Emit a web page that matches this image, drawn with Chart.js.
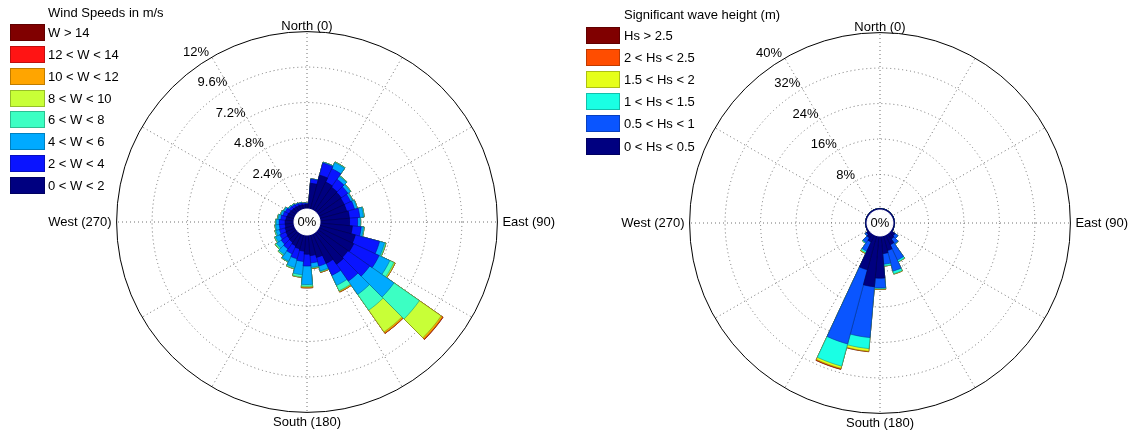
<!DOCTYPE html>
<html>
<head>
<meta charset="utf-8">
<script src="https://cdn.jsdelivr.net/npm/chart.js@4.4.1/dist/chart.umd.min.js"></script>
<style>
    html, body { margin: 0; padding: 0; background: #fff; width: 1134px; height: 435px; overflow: hidden; }
    body { position: relative; font-family: "Liberation Sans", Arial, sans-serif; color: #000; }
    canvas { position: absolute; top: 0; }
    #windCanvas { left: -3px; }
    #waveCanvas { left: 570px; }
    .legend-title, .legend-row { position: absolute; font-size: 13px; white-space: nowrap; }
    .legend-title { line-height: 15px; }
    .legend-row { line-height: 17px; }
    .legend-box { position: absolute; box-sizing: border-box; border: 1px solid; }
</style>
</head>
<body>
<canvas id="windCanvas" width="620" height="435"></canvas>
<canvas id="waveCanvas" width="620" height="435"></canvas>
<div id="windLegend"></div>
<div id="waveLegend"></div>
<script>
// 36 sectors of 10 degrees, sector k centred on 10*k degrees (clockwise from north)
const directionLabels = ['North (0)', '', '', 'East (90)', '', '', 'South (180)', '', '', 'West (270)', '', ''];

// ---- wind speeds, % of time per sector ----
const wind0to2 = [0.30, 1.75, 2.40, 2.10, 2.00, 1.95, 1.90, 1.90, 2.00, 2.00, 2.20, 2.50,
                  2.60, 2.50, 2.60, 2.20, 1.60, 1.40, 1.30, 1.10, 1.00, 0.90, 0.80, 0.75,
                  0.70, 0.65, 0.60, 0.60, 0.55, 0.50, 0.45, 0.40, 0.38, 0.35, 0.33, 0.30];
const wind2to4 = [0.07, 0.28, 0.85, 1.00, 0.65, 0.55, 0.48, 0.55, 0.70, 0.55, 0.60, 1.70,
                  1.90, 1.80, 1.40, 0.90, 0.60, 0.50, 0.80, 0.70, 0.70, 0.60, 0.55, 0.50,
                  0.45, 0.40, 0.40, 0.40, 0.35, 0.30, 0.28, 0.20, 0.18, 0.15, 0.12, 0.10];
const wind4to6 = [0.03, 0.02, 0.05, 0.45, 0.25, 0.20, 0.14, 0.17, 0.25, 0.17, 0.15, 0.35,
                  0.80, 2.00, 1.10, 0.75, 0.35, 0.30, 1.25, 0.90, 0.60, 0.55, 0.45, 0.38,
                  0.32, 0.25, 0.25, 0.20, 0.17, 0.14, 0.12, 0.08, 0.06, 0.05, 0.05, 0.03];
const wind6to8 = [0, 0, 0.01, 0.05, 0.05, 0.04, 0.03, 0.03, 0.05, 0.03, 0.05, 0.08,
                  0.30, 2.10, 1.30, 0.40, 0.05, 0.05, 0.12, 0.15, 0.08, 0.05, 0.08, 0.10,
                  0.07, 0.07, 0.05, 0.05, 0.05, 0.04, 0.03, 0.02, 0.02, 0, 0, 0];
const wind8to10 = [0, 0, 0, 0, 0, 0, 0, 0, 0, 0, 0, 0.02,
                   0.08, 1.80, 1.80, 0.05, 0.02, 0.02, 0.05, 0.03, 0.02, 0, 0.02, 0.02,
                   0, 0, 0, 0, 0, 0, 0, 0, 0, 0, 0, 0];
const wind10to12 = [0, 0, 0, 0, 0, 0, 0, 0, 0, 0, 0, 0,
                    0.02, 0.12, 0.10, 0.05, 0.03, 0.02, 0.05, 0, 0, 0, 0, 0,
                    0, 0, 0, 0, 0, 0, 0, 0, 0, 0, 0, 0];
const wind12to14 = [0, 0, 0, 0, 0, 0, 0, 0, 0, 0, 0, 0,
                    0, 0.03, 0.02, 0, 0, 0, 0.01, 0, 0, 0, 0, 0,
                    0, 0, 0, 0, 0, 0, 0, 0, 0, 0, 0, 0];
const wind14up = [0, 0, 0, 0, 0, 0, 0, 0, 0, 0, 0, 0,
                  0, 0.01, 0, 0, 0, 0, 0, 0, 0, 0, 0, 0,
                  0, 0, 0, 0, 0, 0, 0, 0, 0, 0, 0, 0];
const windLabels = ['0 < W < 2', '2 < W < 4', '4 < W < 6', '6 < W < 8',
                    '8 < W < 10', '10 < W < 12', '12 < W < 14', 'W > 14'];
const windColors = ['#000080', '#0a14ff', '#00aaff', '#3cffc3',
                    '#c8ff37', '#ffa500', '#ff1414', '#800000'];
const windRings = [0, 2.4, 4.8, 7.2, 9.6, 12];
const windRingLabels = ['0%', '2.4%', '4.8%', '7.2%', '9.6%', '12%'];

// ---- significant wave height, % of time per sector ----
const hs0to05 = [0.35, 0.35, 0.35, 0.35, 0.35, 0.35, 0.35, 0.35, 0.35, 0.35, 0.35, 0.35,
                 0.4, 1.2, 1.5, 2.5, 3.5, 4.0, 9.5, 11.5, 8.0, 1.8, 1.2, 0.8,
                 0.4, 0.35, 0.35, 0.35, 0.35, 0.35, 0.35, 0.35, 0.35, 0.35, 0.35, 0.35];
const hs05to1 = [0, 0, 0, 0, 0, 0, 0, 0, 0, 0, 0, 0,
                 0, 0.8, 1.3, 3.8, 4.8, 2.4, 2.2, 11.5, 17.3, 2.3, 1.3, 0.4,
                 0, 0, 0, 0, 0, 0, 0, 0, 0, 0, 0, 0];
const hs1to15 = [0, 0, 0, 0, 0, 0, 0, 0, 0, 0, 0, 0,
                 0, 0, 0.1, 0.4, 0.6, 0.4, 0.2, 2.5, 5.2, 0.4, 0.2, 0,
                 0, 0, 0, 0, 0, 0, 0, 0, 0, 0, 0, 0];
const hs15to2 = [0, 0, 0, 0, 0, 0, 0, 0, 0, 0, 0, 0,
                 0, 0, 0, 0.05, 0.1, 0.05, 0.1, 0.6, 0.5, 0.2, 0, 0,
                 0, 0, 0, 0, 0, 0, 0, 0, 0, 0, 0, 0];
const hs2to25 = [0, 0, 0, 0, 0, 0, 0, 0, 0, 0, 0, 0,
                 0, 0, 0, 0, 0, 0, 0.05, 0.1, 0.2, 0, 0, 0,
                 0, 0, 0, 0, 0, 0, 0, 0, 0, 0, 0, 0];
const hs25up = [0, 0, 0, 0, 0, 0, 0, 0, 0, 0, 0, 0,
                0, 0, 0, 0, 0, 0, 0, 0, 0.05, 0, 0, 0,
                0, 0, 0, 0, 0, 0, 0, 0, 0, 0, 0, 0];
const waveLabels = ['0 < Hs < 0.5', '0.5 < Hs < 1', '1 < Hs < 1.5',
                    '1.5 < Hs < 2', '2 < Hs < 2.5', 'Hs > 2.5'];
const waveColors = ['#000080', '#0a55ff', '#1affe4', '#e6ff1a', '#ff4d00', '#800000'];
const waveRings = [0, 8, 16, 24, 32, 40];
const waveRingLabels = ['0%', '8%', '16%', '24%', '32%', '40%'];

const FONT = '"Liberation Sans", Arial, sans-serif';

function shade(hex, f) {
    const n = parseInt(hex.slice(1), 16);
    const r = Math.round(((n >> 16) & 255) * f);
    const g = Math.round(((n >> 8) & 255) * f);
    const b = Math.round((n & 255) * f);
    return `rgb(${r},${g},${b})`;
}

// north sector straddles 0 deg, so it is drawn as two half wedges (first and last)
function splitNorth(values) {
    return [values[0], ...values.slice(1), values[0]];
}

function sectorAngle(ctx) {
    return (ctx.dataIndex === 0 || ctx.dataIndex === 36) ? 5 : 10;
}

const ringText = {
    id: 'ringText',
    afterDatasetsDraw(chart, args, opts) {
        const scale = chart.scales.r;
        const ctx = chart.ctx;
        const bearing = -31 * Math.PI / 180;
        ctx.save();
        ctx.font = '13px ' + FONT;
        ctx.fillStyle = '#000';
        ctx.textAlign = 'right';
        ctx.textBaseline = 'bottom';
        for (let i = 1; i < opts.values.length; i++) {
            const d = scale.getDistanceFromCenterForValue(opts.values[i]);
            ctx.fillText(opts.labels[i],
                scale.xCenter + d * Math.sin(bearing),
                scale.yCenter - d * Math.cos(bearing));
        }
        ctx.textAlign = 'center';
        ctx.textBaseline = 'middle';
        ctx.fillText(opts.labels[0], scale.xCenter, scale.yCenter);
        ctx.restore();
    }
};

function makeRose(canvasId, bins, colors, rings, ringLabels, holeValue, pad) {

    let running = new Array(36).fill(0);
    const stacked = bins.map(values => {
        running = running.map((v, i) => v + values[i]);
        return running.slice();
    });

    // dataset 0 is drawn last (on top): the white hole, then the stacked bins
    const datasets = [{
        data: new Array(37).fill(0),
        backgroundColor: '#fff',
        borderColor: '#fff',
        borderWidth: 1,
        angle: sectorAngle
    }];
    stacked.forEach((values, k) => {
        datasets.push({
            data: splitNorth(values),
            backgroundColor: colors[k],
            borderColor: shade(colors[k], 0.6),
            borderWidth: 0.6,
            angle: sectorAngle
        });
    });

    const last = rings.length - 1;
    const labelPadding = [-3, 0, 0, 5, 0, 0, 2, 0, 0, 5, 0, 0];

    return new Chart(document.getElementById(canvasId), {
        type: 'polarArea',
        data: { labels: directionLabels, datasets },
        options: {
            responsive: false,
            animation: false,
            layout: { padding: pad },
            plugins: {
                legend: { display: false },
                tooltip: { enabled: false },
                ringText: { values: rings, labels: ringLabels }
            },
            scales: {
                r: {
                    min: holeValue,
                    max: rings[last],
                    startAngle: 0,
                    afterBuildTicks: scale => {
                        scale.ticks = rings.map(v => ({ value: v }));
                    },
                    ticks: { display: false },
                    grid: {
                        circular: true,
                        lineWidth: 1,
                        color: ctx => ctx.index === last ? '#000'
                            : (ctx.index === 0 ? 'rgba(0,0,0,0)' : '#707070')
                    },
                    border: {
                        dash: ctx => ctx.index === last ? [] : [1, 3]
                    },
                    angleLines: {
                        display: true,
                        color: '#707070',
                        lineWidth: 1,
                        borderDash: [1, 3]
                    },
                    pointLabels: {
                        display: true,
                        color: '#000',
                        font: { family: FONT, size: 13 },
                        padding: ctx => labelPadding[ctx.index]
                    }
                }
            }
        },
        plugins: [ringText]
    });
}

function buildLegend(id, title, titleLeft, titleTop, labels, colors, boxLeft, boxWidth, textLeft, firstRow, rowStep) {

    const holder = document.getElementById(id);

    const t = document.createElement('div');
    t.className = 'legend-title';
    t.style.left = titleLeft + 'px';
    t.style.top = titleTop + 'px';
    t.textContent = title;
    holder.appendChild(t);

    // highest class on top
    for (let i = 0; i < labels.length; i++) {
        const k = labels.length - 1 - i;
        const top = firstRow + i * rowStep - 8.5;

        const box = document.createElement('div');
        box.className = 'legend-box';
        box.style.left = boxLeft + 'px';
        box.style.top = top + 'px';
        box.style.width = boxWidth + 'px';
        box.style.height = '17px';
        box.style.background = colors[k];
        box.style.borderColor = shade(colors[k], 0.75);
        holder.appendChild(box);

        const row = document.createElement('div');
        row.className = 'legend-row';
        row.style.left = textLeft + 'px';
        row.style.top = top + 'px';
        row.textContent = labels[k];
        holder.appendChild(row);
    }
}

makeRose('windCanvas',
    [wind0to2, wind2to4, wind4to6, wind6to8, wind8to10, wind10to12, wind12to14, wind14up],
    windColors, windRings, windRingLabels, -0.88,
    { left: 20, right: 20, top: 17, bottom: 2 });

makeRose('waveCanvas',
    [hs0to05, hs05to1, hs1to15, hs15to2, hs2to25, hs25up],
    waveColors, waveRings, waveRingLabels, -2.93,
    { left: 20, right: 20, top: 18, bottom: 1 });

buildLegend('windLegend', 'Wind Speeds in m/s', 48, 5, windLabels, windColors, 10, 35, 48, 32.3, 21.9);
buildLegend('waveLegend', 'Significant wave height (m)', 624, 6.5, waveLabels, waveColors, 586, 34, 624, 35, 22.2);
</script>
</body>
</html>
